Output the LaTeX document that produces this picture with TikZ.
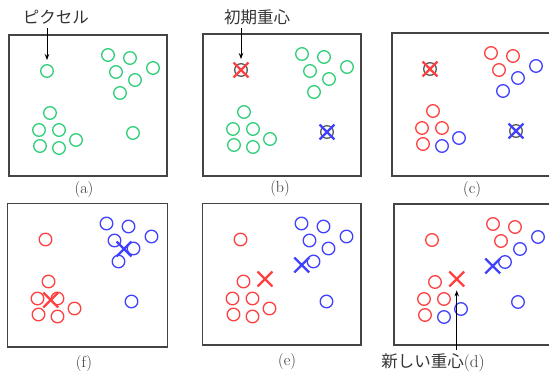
\documentclass[tikz,border=0pt]{standalone}
\usepackage{fontspec}
\newfontfamily\cjk{Noto Sans CJK JP}
\usetikzlibrary{shapes.misc,arrows.meta}
\definecolor{pgreen}{RGB}{46,206,120}
\definecolor{pred}{RGB}{255,64,64}
\definecolor{pblue}{RGB}{64,64,255}
\definecolor{pgray}{RGB}{90,90,90}
\definecolor{framec}{RGB}{68,68,68}
\definecolor{txt}{RGB}{51,51,51}
\begin{document}
\begin{tikzpicture}[x=1pt,y=-1pt,
  pix/.style={circle, draw=#1, line width=1.3pt, minimum size=12.6pt, inner sep=0pt},
  cent/.style={cross out, draw=#1, line width=2.3pt, minimum size=12.5pt, inner sep=0pt},
  panel/.style={draw=framec, line width=1.4pt},
  captext/.style={font=\fontsize{16}{16}\selectfont, text=txt},
  jlabel/.style={font=\cjk\fontsize{16.5}{18}\selectfont, text=txt},
  ptr/.style={line width=0.9pt, -{Stealth[length=6pt,width=4.5pt]}}]
\useasboundingbox (0,0) rectangle (549,374);

% (a)
\begin{scope}[shift={(9,35)}]
  \draw[panel] (0,0) rectangle (158,141);
  \foreach \n/\x/\y/\c in {1/38/36/pgreen,2/99/20/pgreen,3/121/23/pgreen,4/144/33/pgreen,
    5/107/37/pgreen,6/126/45/pgreen,7/111/58/pgreen,8/41/78/pgreen,9/30/95/pgreen,
    10/50/95/pgreen,11/67/105/pgreen,12/31/111/pgreen,13/50/113/pgreen,14/124/98/pgreen}
    \node[pix=\c] (a\n) at (\x,\y) {};
\end{scope}
\node[captext] (capa) at (84,190) {(a)};
\node[jlabel] (lblpix) at (56,17) {ピクセル};
\draw[ptr] (lblpix.south -| a1) -- ([yshift=4pt]a1.north);

% (b)
\begin{scope}[shift={(203,34)}]
  \draw[panel] (0,0) rectangle (158,142);
  \foreach \n/\x/\y/\c in {1/38/36/pgray,2/99/20/pgreen,3/121/23/pgreen,4/144/33/pgreen,
    5/107/37/pgreen,6/126/45/pgreen,7/111/58/pgreen,8/41/78/pgreen,9/30/95/pgreen,
    10/50/95/pgreen,11/67/105/pgreen,12/31/111/pgreen,13/50/113/pgreen,14/124/98/pgray}
    \node[pix=\c] (b\n) at (\x,\y) {};
  \node[cent=pred] (bX1) at (38,36) {};
  \node[cent=pblue] (bX2) at (124,98) {};
\end{scope}
\node[captext] (capb) at (280,189) {(b)};
\node[jlabel] (lblinit) at (257,17) {初期重心};
\draw[ptr] (lblinit.south -| b1) -- ([yshift=4pt]b1.north);

% (c)
\begin{scope}[shift={(392,33)}]
  \draw[panel] (0,0) rectangle (158,143);
  \foreach \n/\x/\y/\c in {1/38/36/pgray,2/99/20/pred,3/121/23/pred,4/144/33/pblue,
    5/107/37/pred,6/126/45/pblue,7/111/58/pblue,8/41/78/pred,9/30/95/pred,
    10/50/95/pred,11/67/105/pblue,12/31/111/pred,13/50/113/pblue,14/124/98/pgray}
    \node[pix=\c] (c\n) at (\x,\y) {};
  \node[cent=pred] (cX1) at (38,36) {};
  \node[cent=pblue] (cX2) at (124,98) {};
\end{scope}
\node[captext] (capc) at (472,190) {(c)};

% (f)
\begin{scope}[shift={(7.5,203.5)}]
  \draw[panel] (0,0) rectangle (160,143.5);
  \foreach \n/\x/\y/\c in {1/38/36/pred,2/99/20/pblue,3/121/23/pblue,4/144/33/pblue,
    5/107/37/pblue,6/126/45/pblue,7/111/58/pblue,8/41/78/pred,9/30/95/pred,
    10/50/95/pred,11/67/105/pred,12/31/111/pred,13/50/113/pred,14/124/98/pblue}
    \node[pix=\c] (f\n) at (\x,\y) {};
  \node[cent=pred] (fX1) at (43.2,96.5) {};
  \node[cent=pblue] (fX2) at (116.5,45.5) {};
\end{scope}
\node[captext] (capf) at (84,364) {(f)};

% (e)
\begin{scope}[shift={(202.5,203.5)}]
  \draw[panel] (0,0) rectangle (158.5,141.5);
  \foreach \n/\x/\y/\c in {1/38/36/pred,2/99/20/pblue,3/121/23/pblue,4/144/33/pblue,
    5/107/37/pblue,6/126/45/pblue,7/111/58/pblue,8/41/78/pred,9/30/95/pred,
    10/50/95/pred,11/67/105/pred,12/31/111/pred,13/50/113/pred,14/124/98/pblue}
    \node[pix=\c] (e\n) at (\x,\y) {};
  \node[cent=pred] (eX1) at (62.5,75.5) {};
  \node[cent=pblue] (eX2) at (99.2,61.5) {};
\end{scope}
\node[captext] (cape) at (287,362) {(e)};

% (d)
\begin{scope}[shift={(394,204)}]
  \draw[panel] (0,0) rectangle (158,141);
  \foreach \n/\x/\y/\c in {1/38/36/pred,2/99/20/pred,3/121/23/pred,4/144/33/pblue,
    5/107/37/pred,6/126/45/pblue,7/111/58/pblue,8/41/78/pred,9/30/95/pred,
    10/50/95/pred,11/67/105/pblue,12/31/111/pred,13/50/113/pblue,14/124/98/pblue}
    \node[pix=\c] (d\n) at (\x,\y) {};
  \node[cent=pred] (dX1) at (62.7,75) {};
  \node[cent=pblue] (dX2) at (98.7,62) {};
\end{scope}
\node[jlabel] (lblnew) at (433,363) {新しい重心{\rmfamily\fontsize{17}{18}\selectfont(d)}};
\draw[ptr] (lblnew.north -| dX1) -- ([yshift=-4pt]dX1.south);
\end{tikzpicture}
\end{document}
